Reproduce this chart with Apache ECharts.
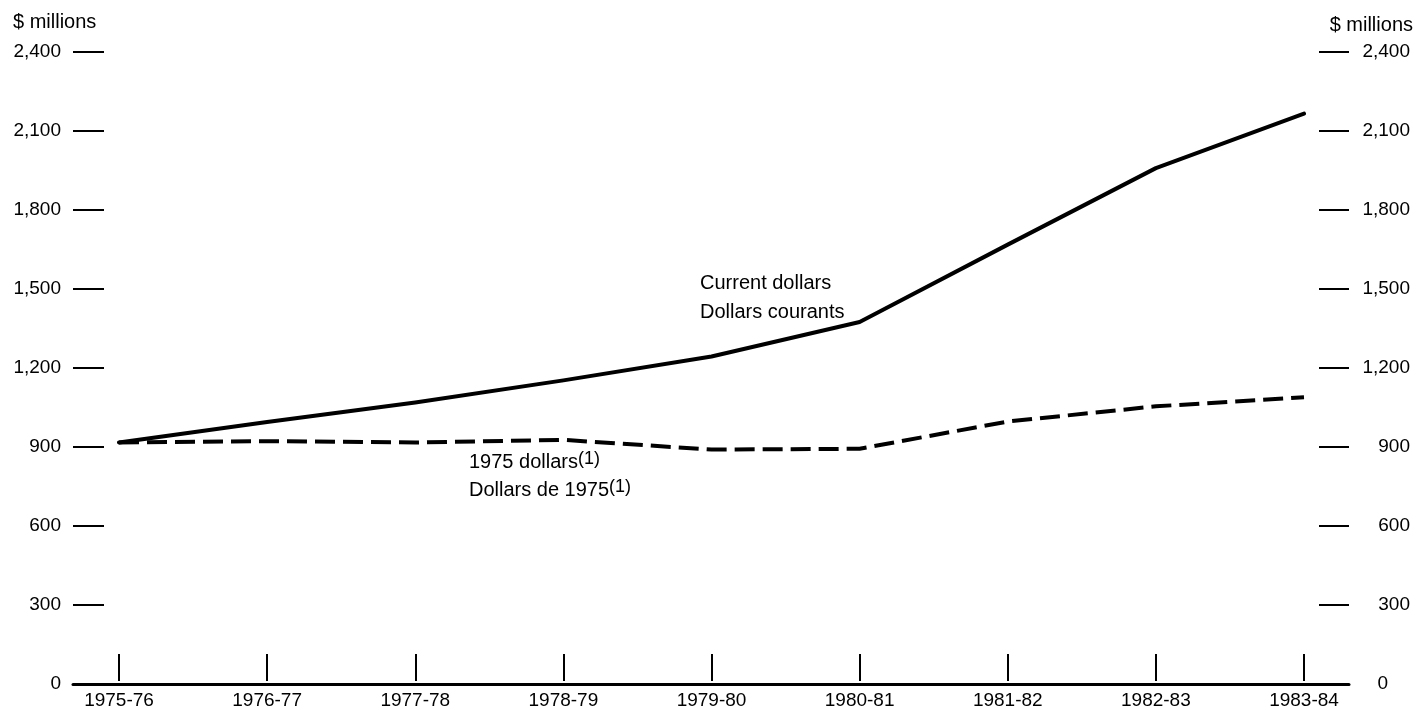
<!DOCTYPE html>
<html>
<head>
<meta charset="utf-8">
<script src="https://cdn.jsdelivr.net/npm/echarts@6/dist/echarts.min.js"></script>
<style>
html,body{margin:0;padding:0;background:#fff;}
#chart{width:1418px;height:710px;}
</style>
</head>
<body>
<div id="chart"></div>
<script>
const categories = ['1975-76','1976-77','1977-78','1978-79','1979-80','1980-81','1981-82','1982-83','1983-84'];
const currentDollars = [910, 988, 1063, 1147, 1238, 1370, 1665, 1957, 2165];
const constantDollars = [910, 915, 910, 920, 883, 886, 990, 1048, 1083];
const yMin = 0, yMax = 2400, yStep = 300;
const unitLabel = '$ millions';
const labelCurrent = ['Current dollars', 'Dollars courants'];
const labelConstant = ['1975 dollars', 'Dollars de 1975'];
const noteMark = '(1)';

const FONT = '"Liberation Sans", Arial, Helvetica, sans-serif';
const fmt = v => v.toLocaleString('en-US');

const chart = echarts.init(document.getElementById('chart'), null, {renderer:'canvas'});
chart.setOption({
  animation: false,
  backgroundColor: '#fff',
  textStyle: {fontFamily: FONT, color: '#000'},
  grid: [
    {left: 119, right: 114, top: 52, bottom: 26},
    {left: 73, right: 69, top: 52, bottom: 26}
  ],
  xAxis: [
    {
      type: 'category', gridIndex: 0, data: categories, boundaryGap: false,
      axisLine: {show: false},
      axisTick: {show: true, inside: true, length: 27, interval: 0, lineStyle: {color: '#000', width: 2}},
      axisLabel: {interval: 0, margin: 10, fontSize: 19, color: '#000', fontFamily: FONT},
      splitLine: {show: false}
    },
    {
      type: 'value', gridIndex: 1, min: 0, max: 1,
      axisLine: {show: true, onZero: false, lineStyle: {color: '#000', width: 3}},
      axisTick: {show: false}, axisLabel: {show: false}, splitLine: {show: false}
    }
  ],
  yAxis: [
    {type: 'value', gridIndex: 0, min: yMin, max: yMax, interval: yStep, show: false},
    {
      type: 'value', gridIndex: 1, position: 'left', min: yMin, max: yMax, interval: yStep,
      axisLine: {show: false},
      axisTick: {show: true, inside: true, length: 31, lineStyle: {color: '#000', width: 2}},
      axisLabel: {margin: 12, fontSize: 19, color: '#000', fontFamily: FONT, formatter: fmt},
      splitLine: {show: false}
    },
    {
      type: 'value', gridIndex: 1, position: 'right', min: yMin, max: yMax, interval: yStep,
      axisLine: {show: false},
      axisTick: {show: true, inside: true, length: 30, lineStyle: {color: '#000', width: 2}},
      axisLabel: {
        margin: 61, align: 'right', fontSize: 19, color: '#000', fontFamily: FONT,
        formatter: v => v === 0 ? '{z|0}' : fmt(v),
        rich: {z: {fontSize: 19, fontFamily: FONT, color: '#000', padding: [0, 22, 0, 0]}}
      },
      splitLine: {show: false}
    }
  ],
  series: [
    {
      name: 'Current dollars', type: 'line', xAxisIndex: 0, yAxisIndex: 0,
      data: currentDollars, symbol: 'none',
      lineStyle: {color: '#000', width: 4, join: 'round', cap: 'round'}
    },
    {
      name: '1975 dollars', type: 'line', xAxisIndex: 0, yAxisIndex: 0,
      data: constantDollars, symbol: 'none',
      lineStyle: {color: '#000', width: 4, type: [20, 8], join: 'round'}
    }
  ],
  graphic: [
    {type: 'text', style: {x: 13, y: 22, text: unitLabel, fontSize: 20, fontFamily: FONT, fill: '#000', verticalAlign: 'middle'}},
    {type: 'text', style: {x: 1413, y: 25, text: unitLabel, fontSize: 20, fontFamily: FONT, fill: '#000', align: 'right', verticalAlign: 'middle'}},
    {type: 'text', style: {x: 700, y: 283, text: labelCurrent[0], fontSize: 20, fontFamily: FONT, fill: '#000', verticalAlign: 'middle'}},
    {type: 'text', style: {x: 700, y: 312, text: labelCurrent[1], fontSize: 20, fontFamily: FONT, fill: '#000', verticalAlign: 'middle'}},
    {type: 'text', style: {x: 469, y: 462, text: '{a|' + labelConstant[0] + '}{b|' + noteMark + '}', verticalAlign: 'middle',
      rich: {a: {fontSize: 20, fontFamily: FONT, color: '#000'}, b: {fontSize: 18, fontFamily: FONT, color: '#000', padding: [0, 0, 5, 0]}}}},
    {type: 'text', style: {x: 469, y: 490, text: '{a|' + labelConstant[1] + '}{b|' + noteMark + '}', verticalAlign: 'middle',
      rich: {a: {fontSize: 20, fontFamily: FONT, color: '#000'}, b: {fontSize: 18, fontFamily: FONT, color: '#000', padding: [0, 0, 5, 0]}}}}
  ]
});
</script>
</body>
</html>
